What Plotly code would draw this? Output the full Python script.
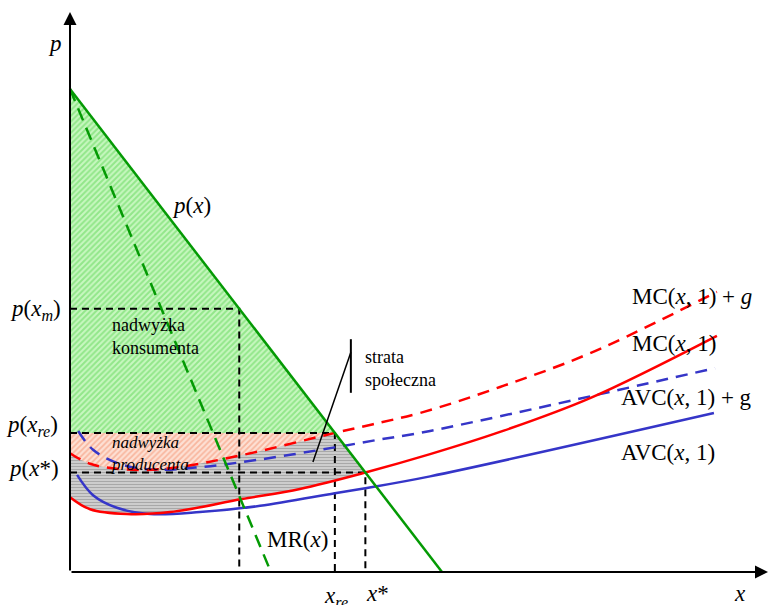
import plotly.graph_objects as go

# ---- model values (price p against quantity x) ----
demand_x = [0, 100]
demand_p = [100, 0]
mr_x = [0, 54]
mr_p = [100, 0]

mc_x = [0, 5.4, 15.3, 26.9, 46.2, 61.8, 79.4, 96.8, 115.6, 139.8, 173.9]
mc_p = [15.5, 13.0, 12.0, 12.4, 15.1, 17.2, 20.6, 24.4, 29.0, 36.0, 48.9]

mcg_x = [0, 5.4, 15.3, 26.9, 46.2, 71.2, 81.5, 94.9, 115.6, 139.8, 173.9]
mcg_p = [24.6, 22.4, 21.2, 21.5, 24.2, 28.8, 30.6, 33.1, 38.3, 45.3, 58.0]

avc_x = [1.9, 6.2, 12.6, 21.5, 34.9, 51.1, 71.2, 79.8, 96.8, 173.1]
avc_p = [20.1, 15.9, 13.3, 12.0, 12.4, 13.7, 16.3, 17.4, 19.8, 32.9]

avcg_x = [2.2, 6.2, 12.6, 21.5, 34.9, 51.1, 71.2, 81.5, 96.8, 173.4]
avcg_p = [29.2, 25.3, 22.6, 21.2, 21.7, 23.3, 25.8, 27.2, 29.2, 42.2]

x_m, p_m = 45.5, 54.5
x_re, p_re = 71.2, 28.8
x_st, p_st = 79.4, 20.6

# ---- styling ----
GREEN = "#049a04"
RED = "#ff0000"
BLUE = "#3535c8"
SERIF = "Liberation Serif"

# pixel scale of one data unit
SX, SY = 3.72, 4.83
X0, Y0 = 70, 572
W, H = 769, 605

fig = go.Figure()

# gray band: between MC and the lower of p_re / demand, up to x*
idx_st = mc_x.index(x_st)
fig.add_trace(go.Scatter(x=mc_x[:idx_st + 1], y=mc_p[:idx_st + 1], mode="lines",
                         line=dict(width=0, shape="spline"), showlegend=False,
                         hoverinfo="skip"))
fig.add_trace(go.Scatter(x=[0, x_re, x_st], y=[p_re, p_re, p_st], mode="lines",
                         line=dict(width=0), fill="tonexty",
                         fillcolor="#cccccc",
                         fillpattern=dict(shape="-", fgcolor="#7c7c7c",
                                          bgcolor="#d4d4d4", size=3, solidity=0.45),
                         showlegend=False, hoverinfo="skip"))

# producer surplus: between MC+g and p_re
idx_re = mcg_x.index(x_re)
fig.add_trace(go.Scatter(x=mcg_x[:idx_re + 1], y=mcg_p[:idx_re + 1], mode="lines",
                         line=dict(width=0, shape="spline"), showlegend=False,
                         hoverinfo="skip"))
fig.add_trace(go.Scatter(x=[0, x_re], y=[p_re, p_re], mode="lines",
                         line=dict(width=0), fill="tonexty",
                         fillcolor="#fbd2c0",
                         fillpattern=dict(shape="/", fgcolor="#f38c68",
                                          bgcolor="#fde0d4", size=4, solidity=0.45),
                         showlegend=False, hoverinfo="skip"))

# consumer surplus: between p_re and demand
fig.add_trace(go.Scatter(x=[0, x_re, 0, 0], y=[demand_p[0], p_re, p_re, demand_p[0]],
                         mode="lines", line=dict(width=0), fill="toself",
                         fillcolor="#b8f2ae",
                         fillpattern=dict(shape="/", fgcolor="#5cd654",
                                          bgcolor="#c8f7c0", size=4, solidity=0.5),
                         showlegend=False, hoverinfo="skip"))

# dashed guide lines
guide = dict(color="black", width=2, dash="7px,5px")
for gx, gp in [(x_m, p_m), (x_re, p_re), (x_st, p_st)]:
    fig.add_trace(go.Scatter(x=[0, gx, gx], y=[gp, gp, 0], mode="lines",
                             line=guide, showlegend=False, hoverinfo="skip"))

# cost curves
fig.add_trace(go.Scatter(x=avc_x, y=avc_p, mode="lines",
                         line=dict(color=BLUE, width=2.5, shape="spline"),
                         showlegend=False))
fig.add_trace(go.Scatter(x=avcg_x, y=avcg_p, mode="lines",
                         line=dict(color=BLUE, width=2.5, shape="spline", dash="12px,8px"),
                         showlegend=False))
fig.add_trace(go.Scatter(x=mc_x, y=mc_p, mode="lines",
                         line=dict(color=RED, width=2.5, shape="spline"),
                         showlegend=False))
fig.add_trace(go.Scatter(x=mcg_x, y=mcg_p, mode="lines",
                         line=dict(color=RED, width=2.5, shape="spline", dash="12px,8px"),
                         showlegend=False))

# demand and marginal revenue
fig.add_trace(go.Scatter(x=mr_x, y=mr_p, mode="lines",
                         line=dict(color=GREEN, width=2.5, dash="13px,8px"),
                         showlegend=False))
fig.add_trace(go.Scatter(x=demand_x, y=demand_p, mode="lines",
                         line=dict(color=GREEN, width=2.5), showlegend=False))

# pointer for the deadweight loss label
fig.add_trace(go.Scatter(x=[75.5, 75.5], y=[48.2, 37.1], mode="lines",
                         line=dict(color="black", width=2), showlegend=False))
fig.add_trace(go.Scatter(x=[75.5, 65.3], y=[45.5, 22.8], mode="lines",
                         line=dict(color="black", width=1.5), showlegend=False))


def at(px, py):
    return (px - X0) / SX, (Y0 - py) / SY


ann = []
# axes with arrows
ann.append(dict(x=0, y=at(0, 12)[1], ax=0, ay=0, xref="x", yref="y", axref="x", ayref="y",
                text="", showarrow=True, arrowhead=2, arrowsize=1.3, arrowwidth=2,
                arrowcolor="black", standoff=0))
ann.append(dict(x=at(768, 0)[0], y=0, ax=0, ay=0, xref="x", yref="y", axref="x", ayref="y",
                text="", showarrow=True, arrowhead=2, arrowsize=1.3, arrowwidth=2,
                arrowcolor="black", standoff=0))


def label(px, py, text, size=23, xanchor="center", italic=False):
    x, y = at(px, py)
    if italic:
        text = "<i>" + text + "</i>"
    ann.append(dict(x=x, y=y, xref="x", yref="y", text=text, showarrow=False,
                    xanchor=xanchor, yanchor="middle", align="left",
                    font=dict(family=SERIF, size=size, color="black")))


label(55, 43, "<i>p</i>")
label(740, 593, "<i>x</i>")
label(191, 205, "<i>p</i>(<i>x</i>)")
label(63, 310, "<i>p</i>(<i>x<sub>m</sub></i>)", xanchor="right")
label(60, 426, "<i>p</i>(<i>x<sub>re</sub></i>)", xanchor="right")
label(61, 468, "<i>p</i>(<i>x</i>*)", xanchor="right")
label(336, 597, "<i>x<sub>re</sub></i>")
label(377, 593, "<i>x</i>*")
label(297, 539, "MR(<i>x</i>)")
label(630, 296, "MC(<i>x</i>, 1) + <i>g</i>", xanchor="left")
label(630, 343, "MC(<i>x</i>, 1)", xanchor="left")
label(619, 397, "AVC(<i>x</i>, 1) + g", xanchor="left")
label(619, 452, "AVC(<i>x</i>, 1)", xanchor="left")
label(110, 336, "nadwyżka<br>konsumenta", size=18, xanchor="left")
label(109, 453, "nadwyżka<br>producenta", size=17, xanchor="left", italic=True)
label(363, 368, "strata<br>społeczna", size=18, xanchor="left")

fig.update_layout(
    width=W, height=H,
    margin=dict(l=0, r=0, t=0, b=0),
    paper_bgcolor="white", plot_bgcolor="white",
    xaxis=dict(range=[-X0 / SX, (W - X0) / SX], visible=False, fixedrange=True),
    yaxis=dict(range=[-(H - Y0) / SY, Y0 / SY], visible=False, fixedrange=True),
    annotations=ann,
    showlegend=False,
)

fig.write_html("out.html")
